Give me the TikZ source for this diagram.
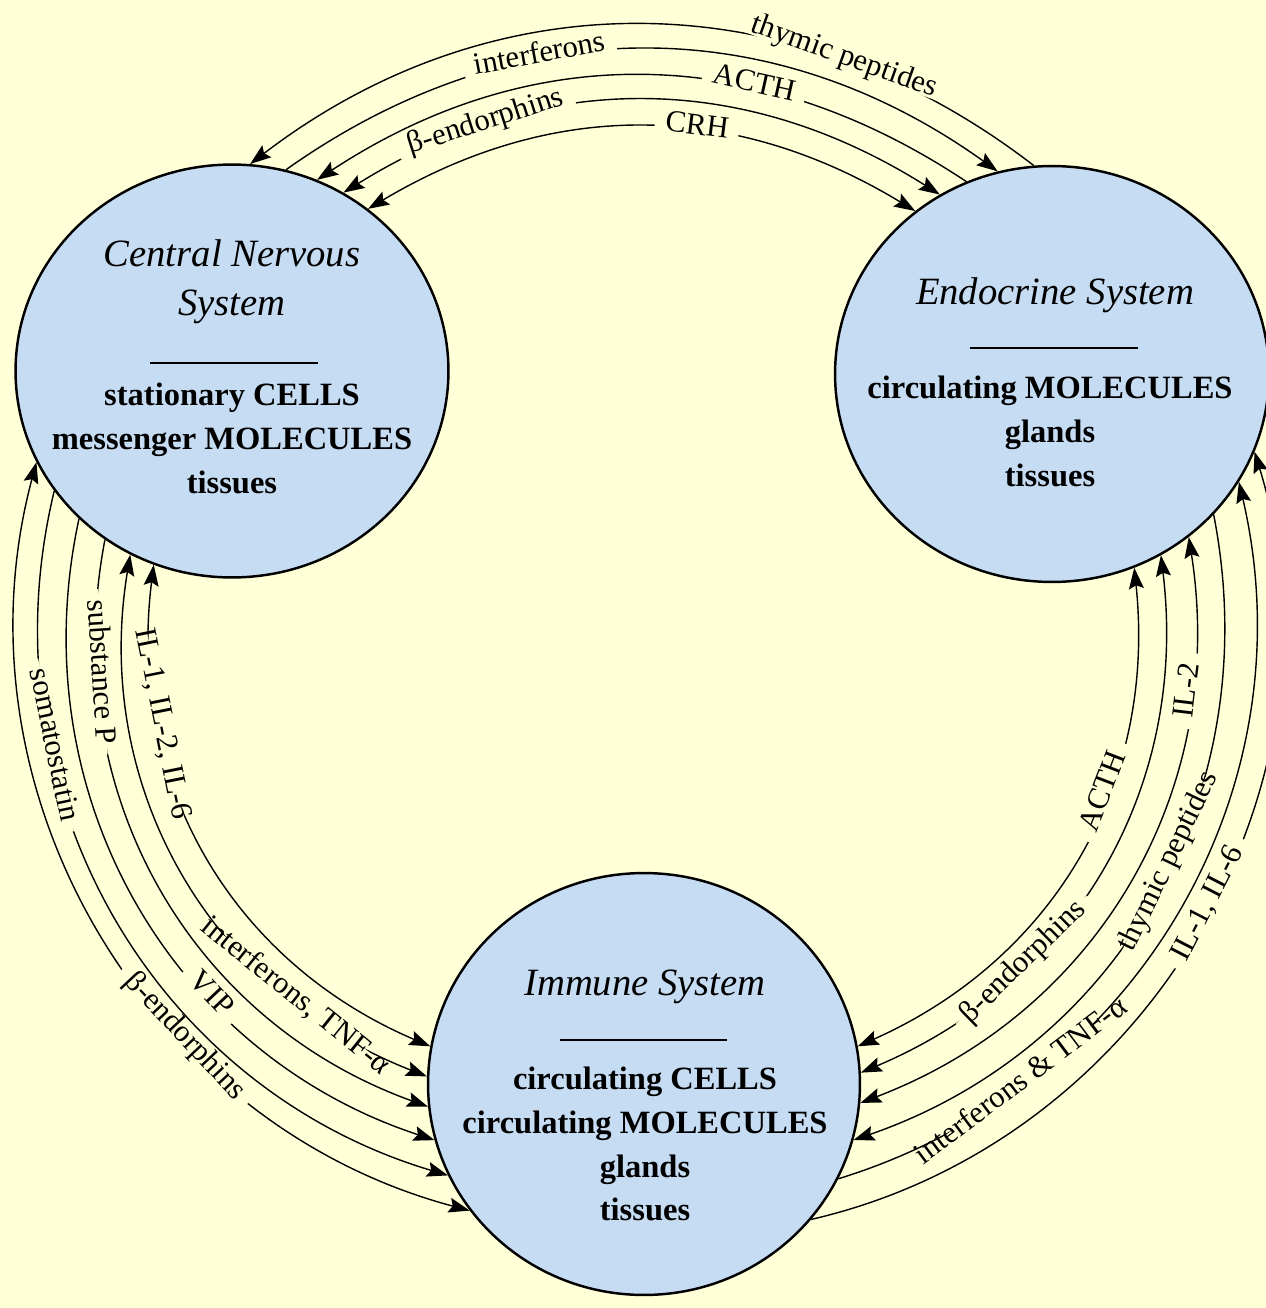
\documentclass[tikz,border=0pt]{standalone}
\usepackage{fontspec}
\setmainfont{Liberation Serif}
\usetikzlibrary{shapes.geometric,arrows.meta}

\definecolor{paper}{HTML}{FFFFD8}
\definecolor{sysblue}{HTML}{C6DCF3}

\newcommand{\titlefont}{\fontsize{22}{28}\selectfont\itshape}
\newcommand{\bodyfont}{\fontsize{18.5}{25}\selectfont\bfseries}
\newcommand{\labelfont}{\fontsize{17.5}{20}\selectfont}

\tikzset{
	system/.style={ellipse, draw, fill=sysblue, line width=1.4pt},
	systitle/.style={font=\titlefont, align=center},
	sysbody/.style={font=\bodyfont, align=center},
	sysrule/.style={line width=1.5pt},
	flow/.style={line width=0.8pt},
	fwd/.style={->},
	bwd/.style={<-},
	dbl/.style={<->},
	lbl/.style={font=\labelfont, sloped, fill=paper, text height=1ex, text depth=0pt, inner xsep=6pt, inner ysep=1.5pt},
}

\begin{document}
\begin{tikzpicture}[x=0.02cm, y=-0.02cm, >={Stealth[length=12pt,width=8.5pt,inset=2pt]}]
	\useasboundingbox (0,0) rectangle (1266,1308);
	\fill[paper] (0,0) rectangle (1266,1308);

	% The three systems
	\node[system, minimum width=8.66cm, minimum height=8.26cm] (cns) at (232,371) {};
	\node[system, minimum width=8.68cm, minimum height=8.32cm] (endo) at (1052,374) {};
	\node[system, minimum width=8.64cm, minimum height=8.44cm] (imm) at (644,1084) {};

	% CNS to endocrine, over the top
	\foreach \s/\e/\b/\tip/\p/\txt in {
			85/95/37.5/bwd/.75/thymic peptides,
			75/105/35.5/fwd/.36/interferons,
			66/114/33.5/bwd/.67/ACTH,
			58/122/32/dbl/.24/β-endorphins,
			50/130/31/dbl/.60/CRH}{
		\draw[flow,\tip] (cns.\s) to[bend left=\b] node[lbl,pos=\p] {\txt} (endo.\e);
	}

	% CNS to immune, down the left
	\foreach \s/\e/\b/\tip/\p/\txt in {
			248/170/37/dbl/.26/{IL-1, IL-2, IL-6},
			241/178/39/dbl/.77/{interferons, TNF-α},
			233/186/40.5/fwd/.18/substance P,
			224/195/42/fwd/.66/VIP,
			214/205/43.5/fwd/.29/somatostatin,
			205.5/216/45/dbl/.65/β-endorphins}{
		\draw[flow,\tip] (cns.\s) to[bend right=\b] node[lbl,pos=\p] {\txt} (imm.\e);
	}

	% Endocrine to immune, down the right
	\foreach \s/\e/\b/\tip/\p/\txt in {
			293/10/36/dbl/.38/ACTH,
			301/3/37/dbl/.70/β-endorphins,
			310/355/39/dbl/.21/IL-2,
			319/345.5/41/fwd/.45/thymic peptides,
			330/334/43/bwd/.77/interferons \& TNF-α,
			339/321/47/bwd/.47/{IL-1, IL-6}}{
		\draw[flow,\tip] (endo.\s) to[bend left=\b] node[lbl,pos=\p] {\txt} (imm.\e);
	}

	% Texts inside the systems
	\node[systitle] (cnstitle) at (232,282) {Central Nervous\\System};
	\draw[sysrule] (150,363) -- (318,363);
	\node[sysbody] (cnsbody) at (232,438) {stationary CELLS\\messenger MOLECULES\\tissues};

	\node[systitle] (endotitle) at (1055,295) {Endocrine System};
	\draw[sysrule] (970,348) -- (1138,348);
	\node[sysbody] (endobody) at (1050,431) {circulating MOLECULES\\glands\\tissues};

	\node[systitle] (immtitle) at (645,987) {Immune System};
	\draw[sysrule] (560,1040) -- (727,1040);
	\node[sysbody] (immbody) at (645,1144) {circulating CELLS\\circulating MOLECULES\\glands\\tissues};
\end{tikzpicture}
\end{document}
